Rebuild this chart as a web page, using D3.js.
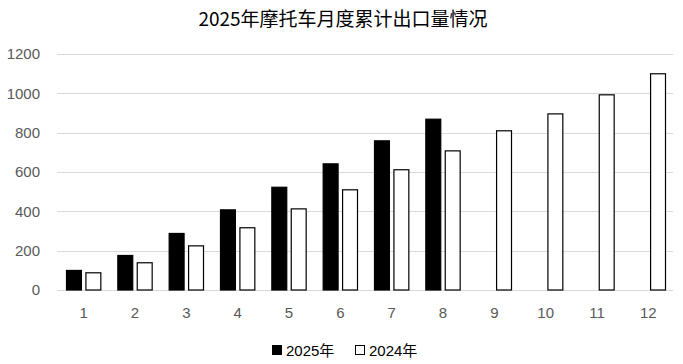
<!DOCTYPE html>
<html>
<head>
<meta charset="utf-8">
<script src="https://cdn.jsdelivr.net/npm/d3@7"></script>
<style>
  body { margin: 0; background: #fff; }
  svg { display: block; }
</style>
</head>
<body>
<svg id="chart" width="683" height="364"></svg>
<script>
// data
var months = ["1", "2", "3", "4", "5", "6", "7", "8", "9", "10", "11", "12"];
var seriesNames = ["2025年", "2024年"];
var values2025 = [102, 178, 290, 410, 525, 644, 761, 871, null, null, null, null];
var values2024 = [90, 141, 227, 319, 415, 512, 614, 710, 812, 898, 995, 1102];
var yTicks = [0, 200, 400, 600, 800, 1000, 1200];

var svg = d3.select("#chart");
var margin = {top: 54, right: 10, bottom: 74, left: 57};
var width = 683 - margin.left - margin.right;
var height = 364 - margin.top - margin.bottom;
var g = svg.append("g").attr("transform", "translate(" + margin.left + "," + margin.top + ")");

var font = "'Liberation Sans', 'Noto Sans CJK SC', sans-serif";

var x = d3.scaleBand().domain(months).range([0, width]).paddingInner(0).paddingOuter(0);
var x1 = d3.scaleBand().domain(seriesNames).range([9, x.bandwidth() - 7]).paddingInner(0.18);
var y = d3.scaleLinear().domain([0, 1200]).range([height, 0]);

// title
svg.append("text")
    .attr("x", 343)
    .attr("y", 26)
    .attr("text-anchor", "middle")
    .style("font-family", "'Noto Sans CJK SC', sans-serif")
    .style("font-size", "19px")
    .attr("fill", "#000")
    .text("2025年摩托车月度累计出口量情况");

// grid lines
g.selectAll(".grid")
  .data(yTicks)
  .enter().append("line")
    .attr("class", "grid")
    .attr("x1", 0)
    .attr("x2", width)
    .attr("y1", function(d) { return Math.round(y(d)) + 0.5; })
    .attr("y2", function(d) { return Math.round(y(d)) + 0.5; })
    .attr("stroke", "#d9d9d9")
    .attr("stroke-width", 1);

// y labels
g.selectAll(".ylab")
  .data(yTicks)
  .enter().append("text")
    .attr("class", "ylab")
    .attr("x", -17)
    .attr("y", function(d) { return y(d); })
    .attr("dy", "0.36em")
    .attr("text-anchor", "end")
    .style("font-family", font)
    .style("font-size", "15px")
    .attr("fill", "#595959")
    .text(function(d) { return d; });

// x labels
g.selectAll(".xlab")
  .data(months)
  .enter().append("text")
    .attr("class", "xlab")
    .attr("x", function(d) { return x(d) + x.bandwidth() / 2 + 1; })
    .attr("y", height + 28)
    .attr("text-anchor", "middle")
    .style("font-family", font)
    .style("font-size", "15px")
    .attr("fill", "#595959")
    .text(function(d) { return d; });

var rows = months.map(function(m, i) {
  return {month: m, "2025年": values2025[i], "2024年": values2024[i]};
});

var groups = g.selectAll(".month")
  .data(rows)
  .enter().append("g")
    .attr("class", "month")
    .attr("transform", function(d) { return "translate(" + x(d.month) + ",0)"; });

groups.selectAll("rect")
  .data(function(d) {
    return seriesNames.filter(function(k) { return d[k] != null; })
      .map(function(k) { return {key: k, value: d[k]}; });
  })
  .enter().append("rect")
    .attr("x", function(d) { return x1(d.key) + 0.5; })
    .attr("y", function(d) { return y(d.value) + 0.5; })
    .attr("width", x1.bandwidth() - 1)
    .attr("height", function(d) { return height - y(d.value) - 0.5; })
    .attr("fill", function(d) { return d.key === "2025年" ? "#000" : "#fff"; })
    .attr("stroke", "#000")
    .attr("stroke-width", 1.2);

// legend
var legend = svg.append("g").attr("transform", "translate(272,351)");
var items = [{name: seriesNames[0], x: 0, fill: "#000"}, {name: seriesNames[1], x: 83, fill: "#fff"}];
items.forEach(function(it) {
  legend.append("rect")
      .attr("x", it.x + 0.5)
      .attr("y", -5.5)
      .attr("width", 9)
      .attr("height", 9)
      .attr("fill", it.fill)
      .attr("stroke", "#000");
  legend.append("text")
      .attr("x", it.x + 14)
      .attr("y", 0)
      .attr("dy", "0.36em")
      .style("font-family", font)
      .style("font-size", "15px")
      .attr("fill", "#000")
      .text(it.name);
});
</script>
</body>
</html>
